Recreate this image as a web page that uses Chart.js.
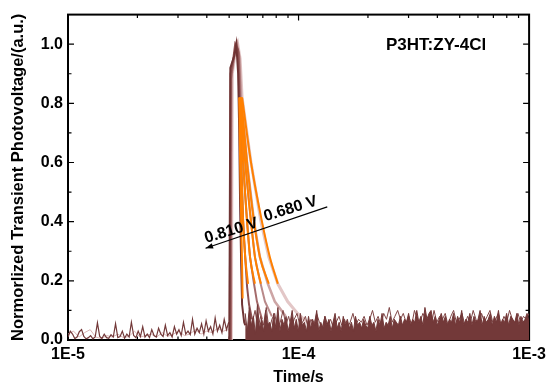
<!DOCTYPE html>
<html>
<head>
<meta charset="utf-8">
<script src="https://cdn.jsdelivr.net/npm/chart.js@4.4.1/dist/chart.umd.min.js"></script>
<style>
html,body{margin:0;padding:0;background:#fff;}
</style>
</head>
<body>
<canvas id="tpvChart" width="551" height="387"></canvas>
<script>
// ---- data (time in s, normalized photovoltage) ----

// axis ticks
const xMajorTicks = [1e-5, 1e-4, 1e-3];
const xTickLabels = ["1E-5", "1E-4", "1E-3"];
const xMinorTicks = [2e-5, 3e-5, 4e-5, 5e-5, 6e-5, 7e-5, 8e-5, 9e-5, 2e-4, 3e-4, 4e-4, 5e-4, 6e-4, 7e-4, 8e-4, 9e-4];
const yMajorTicks = [0, 0.2, 0.4, 0.6, 0.8, 1.0];
const yTickLabels = ["0.0", "0.2", "0.4", "0.6", "0.8", "1.0"];
const yMinorTicks = [0.1, 0.3, 0.5, 0.7, 0.9];

// measured transients, darkest (0.810 V) to lightest (0.680 V)
const d1Time = [5.01e-5, 5.06e-5, 5.16e-5, 5.26e-5, 5.37e-5, 5.47e-5, 5.53e-5, 5.58e-5, 5.64e-5, 5.69e-5, 5.81e-5, 5.87e-5];
const d1Val  = [0, 0.92, 0.94, 0.96, 1.0, 0.9, 0.7, 0.45, 0.25, 0.12, 0.06, 0.05];
const d2Time = [5.03e-5, 5.07e-5, 5.21e-5, 5.31e-5, 5.47e-5, 5.53e-5, 5.64e-5, 5.75e-5, 5.87e-5, 5.98e-5, 6.10e-5, 6.28e-5];
const d2Val  = [0, 0.9, 0.95, 1.0, 0.98, 0.82, 0.6, 0.4, 0.28, 0.18, 0.12, 0.07];
const d3Time = [5.06e-5, 5.09e-5, 5.21e-5, 5.37e-5, 5.50e-5, 5.58e-5, 5.75e-5, 5.98e-5, 6.16e-5, 6.41e-5, 6.60e-5, 6.94e-5];
const d3Val  = [0, 0.88, 0.94, 1.0, 0.97, 0.82, 0.6, 0.4, 0.28, 0.19, 0.13, 0.07];
const d4Time = [5.06e-5, 5.11e-5, 5.26e-5, 5.39e-5, 5.53e-5, 5.61e-5, 5.87e-5, 6.22e-5, 6.47e-5, 6.80e-5, 7.15e-5, 7.66e-5];
const d4Val  = [0, 0.9, 0.96, 1.0, 0.96, 0.82, 0.6, 0.4, 0.28, 0.2, 0.13, 0.08];
const d5Time = [5.08e-5, 5.13e-5, 5.29e-5, 5.42e-5, 5.55e-5, 5.64e-5, 5.98e-5, 6.41e-5, 6.80e-5, 7.36e-5, 7.89e-5, 8.80e-5];
const d5Val  = [0, 0.9, 0.97, 1.0, 0.95, 0.82, 0.6, 0.4, 0.28, 0.19, 0.13, 0.08];
const d6Time = [5.11e-5, 5.16e-5, 5.31e-5, 5.45e-5, 5.58e-5, 5.69e-5, 6.22e-5, 6.87e-5, 7.43e-5, 8.13e-5, 8.97e-5, 9.90e-5, 1.093e-4, 1.206e-4];
const d6Val  = [0, 0.9, 0.97, 1.0, 0.95, 0.82, 0.6, 0.4, 0.28, 0.19, 0.13, 0.09, 0.06, 0.05];

// exponential fits (orange)
const fitVal = [0.82, 0.6, 0.4, 0.28, 0.19];
const f1Time = [5.53e-5, 5.58e-5, 5.64e-5, 5.69e-5, 5.72e-5];
const f1Val  = [0.82, 0.6, 0.4, 0.25, 0.14];
const f2Time = [5.55e-5, 5.64e-5, 5.75e-5, 5.87e-5, 6.04e-5];
const f3Time = [5.58e-5, 5.75e-5, 5.98e-5, 6.16e-5, 6.47e-5];
const f4Time = [5.61e-5, 5.87e-5, 6.22e-5, 6.47e-5, 6.87e-5];
const f5Time = [5.64e-5, 5.98e-5, 6.41e-5, 6.80e-5, 7.43e-5];
const f6Time = [5.69e-5, 6.22e-5, 6.94e-5, 7.51e-5, 8.13e-5];

// baseline noise before the pulse (1E-5 .. 5E-5)
const preNoiseDark = [0.01,0.03,0.02,0.005,0.01,0.028,0.035,0.012,0.004,0.008,0.015,0.004,0.01,0.058,0.012,0.005,0.02,0.008,0.006,0.018,
  0.01,0.055,0.008,0.012,0.03,0.006,0.02,0.01,0.06,0.015,0.008,0.03,0.012,0.045,0.01,0.02,0.008,0.035,0.015,0.01,
  0.04,0.02,0.012,0.05,0.015,0.025,0.01,0.045,0.02,0.035,0.015,0.06,0.02,0.03,0.018,0.07,0.02,0.04,0.025,0.055,
  0.02,0.065,0.03,0.045,0.02,0.075,0.03,0.05,0.025,0.07,0.035,0.06];
const preNoiseLight = [0.02,0.03,0.01,0.025,0.035,0.01,0.005,0.015,0.01,0.02,0.008,0.012,0.03,0.01,0.015,
  0.02,0.01,0.025,0.012,0.02,0.03,0.015,0.02,0.035,0.02,0.03,0.025,0.04,0.03,0.035];

// baseline noise after the decay (5.9E-5 .. 1E-3)
const postNoise = [0.09,0.03,0.11,0.05,0.08,0.02,0.12,0.04,0.07,0.03,0.1,0.05,0.06,0.03,0.09,0.04,0.11,0.03,0.07,0.05,
  0.08,0.03,0.06,0.1,0.04,0.07,0.03,0.09,0.05,0.06,0.03,0.08,0.04,0.07,0.05,0.1,0.03,0.06,0.04,0.08,
  0.05,0.07,0.03,0.06,0.09,0.04,0.06,0.03,0.08,0.05,0.07,0.04,0.06,0.03,0.08,0.05,0.06,0.04,0.07,0.05,
  0.04,0.08,0.05,0.06,0.03,0.07,0.05,0.09,0.04,0.06,0.05,0.08,0.04,0.07,0.06,0.05,0.08,0.05,0.07,0.06,
  0.09,0.05,0.07,0.06,0.1,0.06,0.08,0.05,0.11,0.07,0.09,0.1,0.06,0.08,0.05,0.07,0.09,0.06,0.08,0.05,
  0.07,0.06,0.09,0.05,0.08,0.06,0.1,0.05,0.07,0.06,0.09,0.05,0.08,0.06,0.07,0.1,0.05,0.08,0.06,0.07,
  0.09,0.05,0.08,0.06,0.1,0.05,0.07,0.06,0.09,0.05,0.08,0.07,0.06,0.09,0.05,0.08,0.06,0.07,0.09,0.06];
const postNoise2 = [0.06,0.1,0.04,0.08,0.05,0.11,0.03,0.07,0.09,0.04,0.06,0.1,0.05,0.08,0.04,0.07,0.09,0.05,0.06,0.08,
  0.04,0.07,0.05,0.09,0.06,0.04,0.08,0.05,0.07,0.04,0.06,0.08,0.05,0.07,0.04,0.06,0.09,0.05,0.07,0.06,
  0.08,0.05,0.07,0.1,0.06,0.08,0.05,0.09,0.07,0.11,0.06,0.08,0.1,0.07,0.09,0.06,0.08,0.05,0.1,0.07,
  0.06,0.09,0.07,0.08,0.05,0.1,0.06,0.08,0.07,0.09,0.05,0.08,0.1,0.06,0.07,0.09,0.05,0.08,0.06,0.1,
  0.07,0.05,0.09,0.06,0.08,0.1,0.06,0.07,0.09,0.05,0.08,0.06,0.1,0.07,0.05,0.09,0.06,0.08,0.07,0.09];

// ---- helpers ----
const FONT = "'Liberation Sans', Arial, Helvetica, sans-serif";
Chart.defaults.font.family = FONT;
Chart.defaults.color = "#000";

function pts(times, vals) {
  return times.map((t, i) => ({ x: t, y: vals[i] }));
}
// sampling instants, evenly spaced on the log axis
function sampleTimes(t0, t1, n) {
  const a = Math.log10(t0), b = Math.log10(t1);
  const out = [];
  for (let i = 0; i < n; i++) out.push(Math.pow(10, a + (b - a) * i / (n - 1)));
  return out;
}

function curve(data, color, width, order, extra) {
  return Object.assign({
    data: data,
    borderColor: color,
    backgroundColor: color,
    borderWidth: width,
    pointRadius: 0,
    tension: 0,
    fill: false,
    order: order
  }, extra || {});
}

const ORANGE = "#ff8000";
const NOISE = "#733939";

const datasets = [
  curve(pts(sampleTimes(5.87e-5, 1e-3, postNoise.length), postNoise), NOISE, 1, 0, { fill: "origin", backgroundColor: NOISE }),
  curve(pts(sampleTimes(6.3e-5, 1e-3, postNoise2.length), postNoise2), "#7f4646", 1, 0.5),
  curve(pts(f1Time, f1Val), ORANGE, 2, 1, { cubicInterpolationMode: "monotone" }),
  curve(pts(f2Time, fitVal), ORANGE, 2, 1, { cubicInterpolationMode: "monotone" }),
  curve(pts(f3Time, fitVal), ORANGE, 2, 1, { cubicInterpolationMode: "monotone" }),
  curve(pts(f4Time, fitVal), ORANGE, 2, 1, { cubicInterpolationMode: "monotone" }),
  curve(pts(f5Time, fitVal), ORANGE, 2, 1, { cubicInterpolationMode: "monotone" }),
  curve(pts(f6Time, fitVal), ORANGE, 2, 1, { cubicInterpolationMode: "monotone" }),
  curve(pts(d1Time, d1Val), "#6f3434", 2, 2),
  curve(pts(d2Time, d2Val), "#8e5151", 2, 3),
  curve(pts(d3Time, d3Val), "#a46a6a", 2, 4),
  curve(pts(d4Time, d4Val), "#b98a8a", 2, 5),
  curve(pts(d5Time, d5Val), "#cda5a5", 2.5, 6),
  curve(pts(d6Time, d6Val), "#e3c7c7", 3, 7),
  curve(pts(sampleTimes(1e-5, 4.98e-5, preNoiseDark.length), preNoiseDark), NOISE, 1.2, 8),
  curve(pts(sampleTimes(1e-5, 4.98e-5, preNoiseLight.length), preNoiseLight), "#d9b3b3", 1, 9)
];

// annotation (data coordinates)
const arrowStart = { x: 1.332e-4, y: 0.45 };
const arrowEnd = { x: 3.95e-5, y: 0.31 };
const voltLabels = [
  { text: "0.810 V", x: 5.11e-5, y: 0.369 },
  { text: "0.680 V", x: 9.24e-5, y: 0.443 }
];
const sampleLabel = { text: "P3HT:ZY-4Cl", x: 3.95e-4, y: 0.997 };

const frame = {
  id: "frame",
  beforeDatasetsDraw(chart) {
    const { ctx, chartArea: a, scales: { x, y } } = chart;
    ctx.save();
    ctx.strokeStyle = "#000";
    ctx.lineWidth = 1.2;
    ctx.beginPath();
    const tickX = (vals, len) => vals.forEach(v => {
      const px = x.getPixelForValue(v);
      ctx.moveTo(px, a.bottom); ctx.lineTo(px, a.bottom - len);
      ctx.moveTo(px, a.top); ctx.lineTo(px, a.top + len);
    });
    const tickY = (vals, len) => vals.forEach(v => {
      const py = y.getPixelForValue(v);
      ctx.moveTo(a.left, py); ctx.lineTo(a.left + len, py);
      ctx.moveTo(a.right, py); ctx.lineTo(a.right - len, py);
    });
    tickX(xMajorTicks, 6); tickX(xMinorTicks, 3.5);
    tickY(yMajorTicks, 6); tickY(yMinorTicks, 3.5);
    ctx.stroke();
    ctx.lineWidth = 2;
    ctx.strokeRect(a.left, a.top, a.right - a.left, a.bottom - a.top);
    ctx.restore();
  },
  afterDatasetsDraw(chart) {
    const { ctx, scales: { x, y } } = chart;
    ctx.save();
    // arrow
    const x0 = x.getPixelForValue(arrowStart.x), y0 = y.getPixelForValue(arrowStart.y);
    const x1 = x.getPixelForValue(arrowEnd.x), y1 = y.getPixelForValue(arrowEnd.y);
    ctx.strokeStyle = "#000";
    ctx.fillStyle = "#000";
    ctx.lineWidth = 1.2;
    ctx.beginPath(); ctx.moveTo(x0, y0); ctx.lineTo(x1, y1); ctx.stroke();
    const ang = Math.atan2(y1 - y0, x1 - x0);
    ctx.beginPath();
    ctx.moveTo(x1, y1);
    ctx.lineTo(x1 - 8 * Math.cos(ang - 0.35), y1 - 8 * Math.sin(ang - 0.35));
    ctx.lineTo(x1 - 8 * Math.cos(ang + 0.35), y1 - 8 * Math.sin(ang + 0.35));
    ctx.closePath(); ctx.fill();
    // voltage labels
    ctx.font = "bold 16px " + FONT;
    ctx.textAlign = "center";
    ctx.textBaseline = "middle";
    voltLabels.forEach(l => {
      ctx.save();
      ctx.translate(x.getPixelForValue(l.x), y.getPixelForValue(l.y));
      ctx.rotate(-17 * Math.PI / 180);
      ctx.fillText(l.text, 0, 0);
      ctx.restore();
    });
    ctx.font = "bold 17px " + FONT;
    ctx.fillText(sampleLabel.text, x.getPixelForValue(sampleLabel.x), y.getPixelForValue(sampleLabel.y));
    ctx.restore();
  }
};

new Chart(document.getElementById("tpvChart"), {
  type: "line",
  data: { datasets: datasets },
  options: {
    responsive: false,
    animation: false,
    events: [],
    layout: { padding: { left: 0, right: 17, top: 12, bottom: 0 } },
    plugins: { legend: { display: false }, tooltip: { enabled: false } },
    scales: {
      x: {
        type: "logarithmic",
        min: 1e-5,
        max: 1e-3,
        afterBuildTicks: s => { s.ticks = xMajorTicks.map(v => ({ value: v })); },
        afterFit: s => { s.height = 47; },
        grid: { display: false, drawTicks: false },
        border: { display: false },
        ticks: {
          autoSkip: false, maxRotation: 0, padding: 5,
          font: { size: 16, weight: "bold" },
          callback: (v, i) => xTickLabels[i]
        },
        title: {
          display: true, text: "Time/s",
          font: { size: 16, weight: "bold" },
          padding: { top: 0, bottom: 0 }
        }
      },
      y: {
        type: "linear",
        min: 0,
        max: 1.1,
        afterBuildTicks: s => { s.ticks = yMajorTicks.map(v => ({ value: v })); },
        afterFit: s => { s.width = 68; },
        grid: { display: false, drawTicks: false },
        border: { display: false },
        ticks: {
          padding: 5,
          font: { size: 16, weight: "bold" },
          callback: (v, i) => yTickLabels[i]
        },
        title: {
          display: true, text: "Normorlized Transient Photovoltage/(a.u.)",
          font: { size: 16.5, weight: "bold" },
          padding: { top: 9, bottom: 0 }
        }
      }
    }
  },
  plugins: [frame]
});
</script>
</body>
</html>
